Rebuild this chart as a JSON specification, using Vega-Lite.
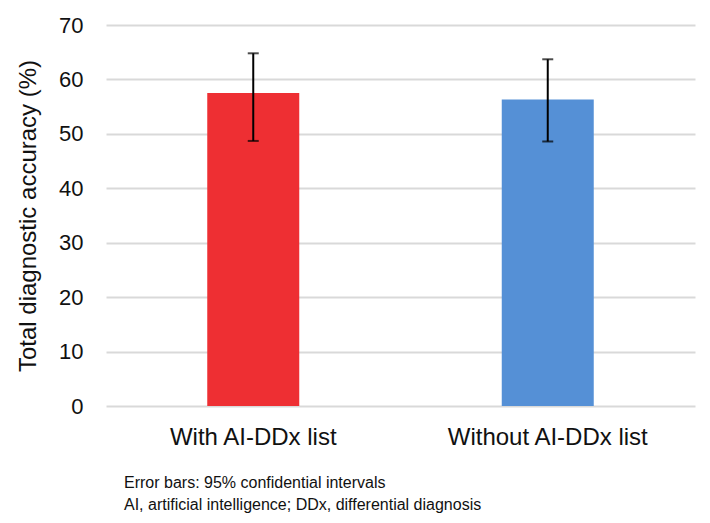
{
  "$schema": "https://vega.github.io/schema/vega-lite/v6.json",
  "width": 589,
  "height": 381,
  "autosize": {"type": "none"},
  "padding": {"left": 106, "top": 25, "right": 15, "bottom": 117},
  "background": "white",
  "config": {
    "font": "Liberation Sans",
    "view": {"stroke": null}
  },
  "title": {
    "text": ["Error bars: 95% confidential intervals", "AI, artificial intelligence; DDx, differential diagnosis"],
    "orient": "bottom",
    "anchor": "start",
    "frame": "group",
    "dx": 18,
    "offset": 26,
    "fontSize": 16,
    "fontWeight": "normal",
    "lineHeight": 22,
    "color": "#111111",
    "font": "Liberation Sans"
  },
  "data": {
    "values": [
      {"group": "With AI-DDx list", "accuracy": 57.5, "lower": 48.7, "upper": 64.8},
      {"group": "Without AI-DDx list", "accuracy": 56.3, "lower": 48.6, "upper": 63.7}
    ]
  },
  "encoding": {
    "x": {
      "field": "group",
      "type": "nominal",
      "sort": null,
      "scale": {"paddingInner": 0, "paddingOuter": 0},
      "axis": {
        "title": null,
        "labelAngle": 0,
        "labelFontSize": 24,
        "labelColor": "#111111",
        "labelPadding": 19,
        "labelLimit": 400,
        "ticks": false,
        "domain": false
      }
    }
  },
  "layer": [
    {
      "mark": {"type": "bar", "size": 92},
      "encoding": {
        "y": {
          "field": "accuracy",
          "type": "quantitative",
          "scale": {"domain": [0, 70], "nice": false},
          "axis": {
            "title": "Total diagnostic accuracy (%)",
            "titleFontSize": 24,
            "titleFontWeight": "normal",
            "titleColor": "#111111",
            "titlePadding": 18,
            "values": [0, 10, 20, 30, 40, 50, 60, 70],
            "labelFontSize": 22,
            "labelColor": "#111111",
            "labelPadding": 23,
            "ticks": false,
            "domain": false,
            "grid": true,
            "gridColor": "#d9d9d9",
            "gridWidth": 2
          }
        },
        "color": {
          "field": "group",
          "type": "nominal",
          "scale": {"domain": ["With AI-DDx list", "Without AI-DDx list"], "range": ["#EE2F33", "#5590D6"]},
          "legend": null
        }
      }
    },
    {
      "mark": {"type": "rule", "color": "#000000", "strokeWidth": 2},
      "encoding": {
        "y": {"field": "lower", "type": "quantitative"},
        "y2": {"field": "upper"}
      }
    },
    {
      "mark": {"type": "tick", "color": "#000000", "thickness": 2, "size": 11},
      "encoding": {
        "y": {"field": "lower", "type": "quantitative"}
      }
    },
    {
      "mark": {"type": "tick", "color": "#000000", "thickness": 2, "size": 11},
      "encoding": {
        "y": {"field": "upper", "type": "quantitative"}
      }
    }
  ]
}
